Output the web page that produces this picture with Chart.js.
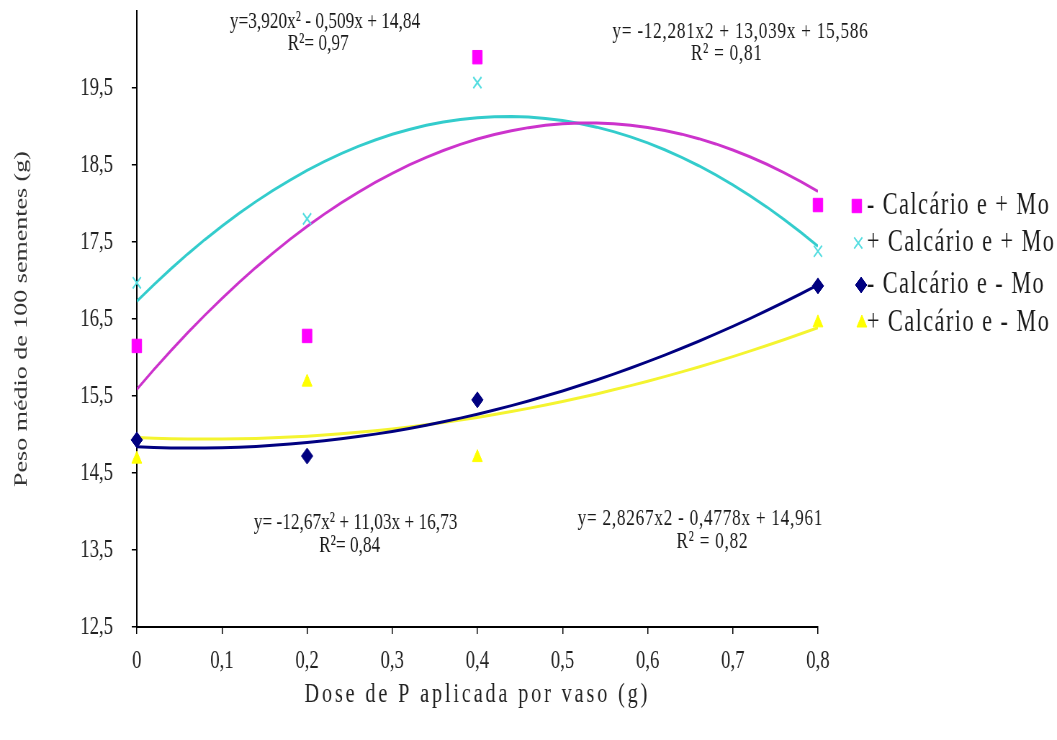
<!DOCTYPE html>
<html>
<head>
<meta charset="utf-8">
<title>Peso médio de 100 sementes</title>
<script src="https://cdn.jsdelivr.net/npm/chart.js@4.4.1/dist/chart.umd.min.js"></script>
<style>
  html, body { margin: 0; padding: 0; background: #fff; overflow: hidden; }
  /* the figure is drawn wide and squeezed horizontally, like the original print */
  #wrap { width: 1468px; height: 740px; transform: scaleX(0.72); transform-origin: 0 0; }
</style>
</head>
<body>
<div id="wrap"><canvas id="grafico" width="1468" height="740"></canvas></div>
<script>
// Doses de P (g por vaso)
var doses = [0, 0.2, 0.4, 0.8];

// Peso médio de 100 sementes (g)
var semCalcarioComMo = [16.15, 16.28, 19.9, 17.98];
var comCalcarioComMo = [16.97, 17.8, 19.57, 17.38];
var semCalcarioSemMo = [14.93, 14.72, 15.45, 16.93];
var comCalcarioSemMo = [14.68, 15.68, 14.7, 16.45];

// Coeficientes das regressões (a x² + b x + c)
var regSemCalcarioComMo = [-12.281, 13.039, 15.586];
var regComCalcarioComMo = [-12.67, 11.03, 16.73];
var regSemCalcarioSemMo = [3.920, -0.509, 14.84];
var regComCalcarioSemMo = [2.8267, -0.4778, 14.961];

// Texto das equações
var eqSemCalcarioSemMo = ['y=3,920x² - 0,509x + 14,84', 'R²= 0,97'];
var eqSemCalcarioComMo = ['y= -12,281x2 + 13,039x + 15,586', 'R² = 0,81'];
var eqComCalcarioComMo = ['y= -12,67x² + 11,03x + 16,73', 'R²= 0,84'];
var eqComCalcarioSemMo = ['y= 2,8267x2 - 0,4778x + 14,961', 'R² = 0,82'];

var xTicks = [0, 0.1, 0.2, 0.3, 0.4, 0.5, 0.6, 0.7, 0.8];
var yTicks = [12.5, 13.5, 14.5, 15.5, 16.5, 17.5, 18.5, 19.5];

var fonte = '"Liberation Serif", "Times New Roman", serif';

function pontos(valores) {
    return doses.map(function(d, i){ return {x: d, y: valores[i]}; });
}

// curva de tendência a partir da equação
function curva(coef) {
    var out = [];
    for (var i = 0; i <= 80; i += 2) {
        var x = i / 100;
        out.push({x: x, y: coef[0] * x * x + coef[1] * x + coef[2]});
    }
    return out;
}

function virgula(v) {
    if (v === 0) return '0';
    return v.toFixed(1).replace('.', ',');
}

var series = [
    {label: '- Calcário e + Mo', dados: semCalcarioComMo, reg: regSemCalcarioComMo,
     marca: '#ff00ff', linha: '#cc33cc', estilo: 'rect', raio: 9.5},
    {label: '+ Calcário e + Mo', dados: comCalcarioComMo, reg: regComCalcarioComMo,
     marca: '#55dde0', linha: '#33cccc', estilo: 'crossRot', raio: 8},
    {label: '- Calcário e - Mo', dados: semCalcarioSemMo, reg: regSemCalcarioSemMo,
     marca: '#000080', linha: '#000080', estilo: 'rectRot', raio: 8},
    {label: '+ Calcário e - Mo', dados: comCalcarioSemMo, reg: regComCalcarioSemMo,
     marca: '#ffff00', linha: '#f4f430', estilo: 'triangle', raio: 8}
];

var datasets = [];
series.forEach(function(s){
    datasets.push({
        type: 'line',
        label: s.label + ' (tendência)',
        data: curva(s.reg),
        borderColor: s.linha,
        borderWidth: 3,
        pointRadius: 0,
        fill: false,
        tension: 0,
        order: 2
    });
    datasets.push({
        type: 'scatter',
        label: s.label,
        data: pontos(s.dados),
        pointStyle: s.estilo,
        pointRadius: s.raio,
        backgroundColor: s.marca,
        borderColor: s.marca,
        borderWidth: s.estilo === 'crossRot' ? 2 : 1,
        clip: false,
        order: 1
    });
});

// Equações escritas sobre o gráfico (posição em unidades dos eixos)
var equacoes = {
    id: 'equacoes',
    afterDatasetsDraw: function(chart) {
        var ctx = chart.ctx, sx = chart.scales.x, sy = chart.scales.y;
        var lista = [
            {txt: eqSemCalcarioSemMo, x: [0.221, 0.213], y: [20.36, 20.07], esp: '0px'},
            {txt: eqSemCalcarioComMo, x: [0.709, 0.693], y: [20.23, 19.94], esp: '1px'},
            {txt: eqComCalcarioComMo, x: [0.257, 0.25], y: [13.86, 13.56], esp: '0px'},
            {txt: eqComCalcarioSemMo, x: [0.662, 0.676], y: [13.91, 13.61], esp: '1px'}
        ];
        ctx.save();
        ctx.font = '24px ' + fonte;
        ctx.fillStyle = '#1a1a1a';
        ctx.textAlign = 'center';
        ctx.textBaseline = 'middle';
        lista.forEach(function(e){
            ctx.letterSpacing = e.esp;
            for (var k = 0; k < 2; k++) {
                ctx.fillText(e.txt[k], sx.getPixelForValue(e.x[k]), sy.getPixelForValue(e.y[k]));
            }
        });
        ctx.restore();
    }
};

// Legenda à direita
var legenda = {
    id: 'legenda',
    afterDraw: function(chart) {
        var ctx = chart.ctx;
        var linhas = [206, 243, 285, 323];
        var marcaX = [1190, 1192, 1196, 1197];
        ctx.save();
        ctx.font = '31px ' + fonte;
        ctx.letterSpacing = '2px';
        ctx.textAlign = 'left';
        ctx.textBaseline = 'middle';
        series.forEach(function(s, i){
            ctx.fillStyle = s.marca;
            ctx.strokeStyle = s.marca;
            ctx.lineWidth = s.estilo === 'crossRot' ? 2 : 1;
            Chart.helpers.drawPoint(ctx, {pointStyle: s.estilo, radius: s.raio, rotation: 0,
                borderWidth: ctx.lineWidth}, marcaX[i], linhas[i]);
            ctx.fillStyle = '#1a1a1a';
            ctx.fillText(s.label, 1204, linhas[i]);
        });
        ctx.restore();
    }
};

var grafico = new Chart(document.getElementById('grafico'), {
    type: 'scatter',
    data: {datasets: datasets},
    options: {
        responsive: false,
        animation: false,
        devicePixelRatio: 1,
        layout: {padding: {left: 0, top: 11, right: 332, bottom: 0}},
        plugins: {
            legend: {display: false},
            tooltip: {enabled: false}
        },
        scales: {
            x: {
                type: 'linear',
                min: 0,
                max: 0.8,
                afterBuildTicks: function(scale){
                    scale.ticks = xTicks.map(function(v){ return {value: v}; });
                },
                afterFit: function(scale){
                    scale.height = 113;
                    scale.paddingLeft = 0;
                    scale.paddingRight = 0;
                },
                grid: {display: true, drawOnChartArea: false, drawTicks: true, tickLength: 7, color: '#000', lineWidth: 1.5},
                border: {display: true, color: '#000', width: 2},
                ticks: {
                    color: '#222',
                    padding: 12,
                    maxRotation: 0,
                    font: {family: fonte, size: 26},
                    callback: function(v){ return virgula(v); }
                },
                title: {
                    display: true,
                    text: 'Dose de P aplicada por vaso (g)',
                    color: '#222',
                    font: {family: fonte, size: 28},
                    padding: {top: 0, bottom: 29}
                }
            },
            y: {
                type: 'linear',
                min: 12.5,
                max: 20.5,
                afterBuildTicks: function(scale){
                    scale.ticks = yTicks.map(function(v){ return {value: v}; });
                },
                afterFit: function(scale){
                    scale.width = 190;
                    scale.paddingTop = 0;
                    scale.paddingBottom = 0;
                },
                grid: {display: true, drawOnChartArea: false, drawTicks: true, tickLength: 7, color: '#000', lineWidth: 1.5},
                border: {display: true, color: '#000', width: 2},
                ticks: {
                    color: '#222',
                    padding: 26,
                    font: {family: fonte, size: 26},
                    callback: function(v){ return virgula(v); }
                },
                title: {
                    display: true,
                    text: 'Peso médio de 100 sementes (g)',
                    color: '#333',
                    font: {family: fonte, size: 26},
                    padding: {top: 15, bottom: 0}
                }
            }
        }
    },
    plugins: [equacoes, legenda]
});

// título do eixo x com letras mais espaçadas
var eixoX = grafico.scales.x;
var tituloOriginal = eixoX.drawTitle;
eixoX.drawTitle = function() {
    this.ctx.save();
    this.ctx.letterSpacing = '4px';
    tituloOriginal.call(this);
    this.ctx.restore();
};
grafico.draw();
</script>
</body>
</html>
